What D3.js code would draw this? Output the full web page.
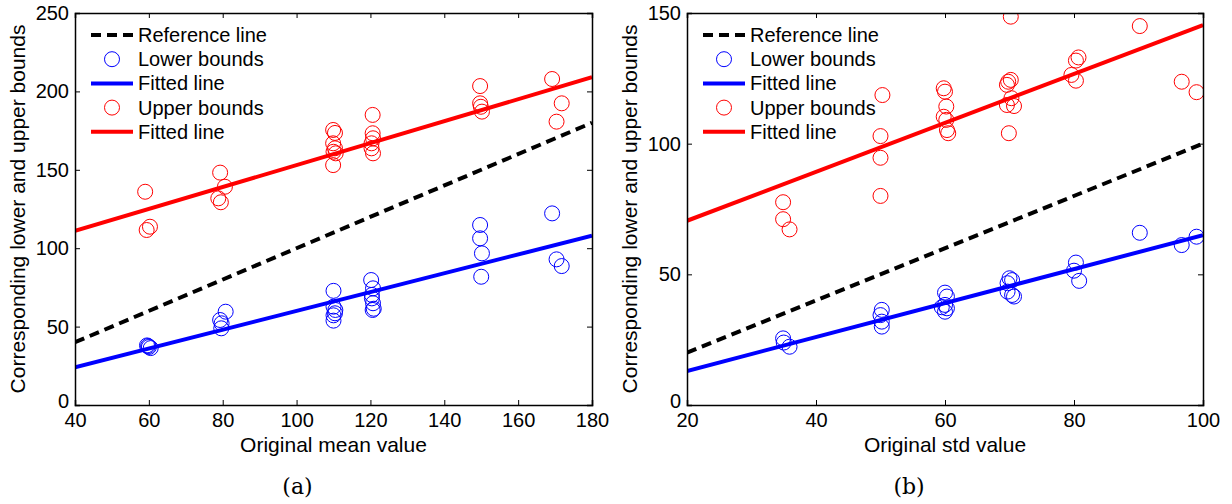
<!DOCTYPE html>
<html>
<head>
<meta charset="utf-8">
<script src="https://cdn.jsdelivr.net/npm/d3@7"></script>
<style>
  body { margin: 0; background: #fff; }
  text { font-family: "Liberation Sans", Arial, sans-serif; }
</style>
</head>
<body>
<svg id="chart" width="1232" height="504"></svg>
<script>
// Panel (a): original mean value
var meanTicksX = [40, 60, 80, 100, 120, 140, 160, 180];
var meanTicksY = [0, 50, 100, 150, 200, 250];
var meanLower = [[59.5,38],[60,37],[60.5,36.3],[59.8,37.6],
  [80.8,59.5],[79.3,54.2],[79.7,52.1],[79.6,48.9],
  [110,72.8],[110,62.7],[110.5,60.6],[110.4,58.5],[110,57.2],[110,53.8],
  [120.2,79.7],[120.7,74.4],[120.4,70.2],[120.4,68],[120.7,64.9],[120.9,61.4],[120.6,60.6],
  [149.7,114.8],[149.7,106.3],[150.2,96.7],[150,81.8],
  [169.2,122.2],[170.4,92.9],[171.8,88.6]];
var meanUpper = [[59,136],[59.4,111.6],[60.3,113.7],
  [79.3,148.2],[80.6,139.2],[78.8,131.8],[79.5,129.3],
  [109.9,175.4],[110.4,173.5],[109.9,166.9],[110.4,163.7],[110,161.5],[110.6,160.5],[109.9,153],
  [120.6,185],[120.6,173.3],[120.7,170.1],[120.3,166.9],[120.3,163.7],[120.7,160.5],
  [149.7,203.4],[149.7,192.4],[149.9,190.2],[150.2,187.1],
  [169.2,207.9],[171.8,192.4],[170.4,180.7]];
var meanRefLine = [[40,40],[180,180]];
var meanFitLower = [[40,24],[180,108]];
var meanFitUpper = [[40,111],[180,209]];

// Panel (b): original std value
var stdTicksX = [20, 40, 60, 80, 100];
var stdTicksY = [0, 50, 100, 150];
var stdLower = [[34.9,25.5],[35,23.9],[35.9,22.3],
  [50.2,36.4],[50,34.4],[50.2,31.9],[50.2,30],
  [60,43],[60.3,41.5],[60,38.3],[59.5,37.4],[60.3,37],[60,35.7],
  [70,48.5],[70.4,47.8],[69.7,46.6],[69.7,43.4],[70.4,42.1],[70.7,41.5],
  [80.3,54.5],[80,51.4],[80.8,47.5],
  [90.2,65.9],[96.7,61.2],[99,64.4]];
var stdUpper = [[34.9,77.6],[34.9,71.1],[35.9,67.2],
  [50.3,118.6],[50,102.9],[50,94.6],[50,80],
  [59.8,121.2],[60,119.9],[60.2,114.2],[59.8,110.3],[60.2,109.1],[60.3,105.2],[60.5,104],
  [70.2,148.6],[69.8,123.7],[70.2,124.4],[69.6,122.5],[70.3,117.4],[69.6,114.8],[70.7,114.4],[69.9,104],
  [80.7,133],[80.3,131.8],[79.6,126.3],[80.3,124.1],
  [90.2,145],[96.7,123.7],[99,119.7]];
var stdRefLine = [[20,20],[100,100]];
var stdFitLower = [[20,13],[100,65]];
var stdFitUpper = [[20,70.5],[100,145.4]];

var legendLabels = ["Reference line", "Lower bounds", "Fitted line", "Upper bounds", "Fitted line"];
var yTitle = "Corresponding lower and upper bounds";

var svg = d3.select("#chart");

var drawPanel = function(box, xDom, yDom, xTicks, yTicks, lower, upper, refLine, fitLower, fitUpper, xTitle, caption) {
    var x = d3.scaleLinear().domain(xDom).range([box.left, box.right]);
    var y = d3.scaleLinear().domain(yDom).range([box.bottom, box.top]);
    var g = svg.append("g");
    var line = d3.line().x(function(d){ return x(d[0]); }).y(function(d){ return y(d[1]); });

    // clip so markers stay inside the box
    var cid = "clip" + box.left;
    svg.append("clipPath").attr("id", cid).append("rect")
        .attr("x", box.left).attr("y", box.top)
        .attr("width", box.right - box.left).attr("height", box.bottom - box.top);
    var plot = g.append("g").attr("clip-path", "url(#" + cid + ")");

    plot.append("path").datum(refLine).attr("d", line)
        .attr("fill", "none").attr("stroke", "#000").attr("stroke-width", 4)
        .attr("stroke-dasharray", "10,6");

    plot.append("g").selectAll("circle").data(lower).enter().append("circle")
        .attr("cx", function(d){ return x(d[0]); })
        .attr("cy", function(d){ return y(d[1]); })
        .attr("r", 7.5).attr("fill", "none").attr("stroke", "#0000ff").attr("stroke-width", 1);

    plot.append("path").datum(fitLower).attr("d", line)
        .attr("fill", "none").attr("stroke", "#0000ff").attr("stroke-width", 4);

    plot.append("g").selectAll("circle").data(upper).enter().append("circle")
        .attr("cx", function(d){ return x(d[0]); })
        .attr("cy", function(d){ return y(d[1]); })
        .attr("r", 7.5).attr("fill", "none").attr("stroke", "#ff0000").attr("stroke-width", 1);

    plot.append("path").datum(fitUpper).attr("d", line)
        .attr("fill", "none").attr("stroke", "#ff0000").attr("stroke-width", 4);

    // axes with inner ticks on all sides
    var bottom = g.append("g").attr("transform", "translate(0," + box.bottom + ")")
        .call(d3.axisBottom(x).tickValues(xTicks).tickSize(-5).tickPadding(8).tickFormat(d3.format("d")));
    var top = g.append("g").attr("transform", "translate(0," + box.top + ")")
        .call(d3.axisTop(x).tickValues(xTicks).tickSize(-5).tickFormat(""));
    var left = g.append("g").attr("transform", "translate(" + box.left + ",0)")
        .call(d3.axisLeft(y).tickValues(yTicks).tickSize(-5).tickPadding(6).tickFormat(d3.format("d")));
    var right = g.append("g").attr("transform", "translate(" + box.right + ",0)")
        .call(d3.axisRight(y).tickValues(yTicks).tickSize(-5).tickFormat(""));
    [bottom, top, left, right].forEach(function(a) {
        a.select(".domain").attr("stroke", "#000").attr("stroke-width", 1.5);
        a.selectAll(".tick line").attr("stroke", "#000").attr("stroke-width", 1);
        a.selectAll("text").attr("font-size", 20).attr("fill", "#000")
            .style("font-family", "'Liberation Sans', Arial, sans-serif");
    });
    // the zero label sits just above the x tick labels
    left.selectAll(".tick text").filter(function(d){ return d === 0; }).attr("dy", "0.1em");

    // axis titles
    g.append("text").attr("x", (box.left + box.right) / 2).attr("y", box.bottom + 47)
        .attr("text-anchor", "middle").attr("font-size", 21).text(xTitle);
    g.append("text")
        .attr("transform", "translate(" + (box.left - 50) + "," + ((box.top + box.bottom) / 2) + ") rotate(-90)")
        .attr("text-anchor", "middle").attr("font-size", 21).text(yTitle);

    // caption
    g.append("text").attr("x", (box.left + box.right) / 2 - 36).attr("y", box.bottom + 89)
        .attr("text-anchor", "middle").attr("font-size", 22)
        .style("font-family", "'DejaVu Serif', 'Liberation Serif', serif").text(caption);

    // legend
    var lx = box.left + 16, ly = box.top + 22, step = 24.2;
    var leg = g.append("g").selectAll("g").data(legendLabels).enter().append("g")
        .attr("transform", function(d, i){ return "translate(" + lx + "," + (ly + i * step) + ")"; });
    leg.append("text").attr("x", 47).attr("y", 0).attr("dy", "0.35em")
        .attr("font-size", 20).text(function(d){ return d; });
    leg.each(function(d, i) {
        var s = d3.select(this);
        if (i === 1 || i === 3) {
            s.append("circle").attr("cx", 21).attr("cy", 0).attr("r", 7.5).attr("fill", "none")
                .attr("stroke", i === 1 ? "#0000ff" : "#ff0000").attr("stroke-width", 1);
        } else {
            s.append("line").attr("x1", 0).attr("x2", 42).attr("y1", 0).attr("y2", 0)
                .attr("stroke", i === 0 ? "#000" : (i === 2 ? "#0000ff" : "#ff0000"))
                .attr("stroke-width", 4)
                .attr("stroke-dasharray", i === 0 ? "10,6" : null);
        }
    });
};

drawPanel({left: 75, right: 592, top: 13, bottom: 405}, [40, 180], [0, 250], meanTicksX, meanTicksY,
    meanLower, meanUpper, meanRefLine, meanFitLower, meanFitUpper, "Original mean value", "(a)");
drawPanel({left: 687, right: 1203, top: 13, bottom: 405}, [20, 100], [0, 150], stdTicksX, stdTicksY,
    stdLower, stdUpper, stdRefLine, stdFitLower, stdFitUpper, "Original std value", "(b)");
</script>
</body>
</html>
